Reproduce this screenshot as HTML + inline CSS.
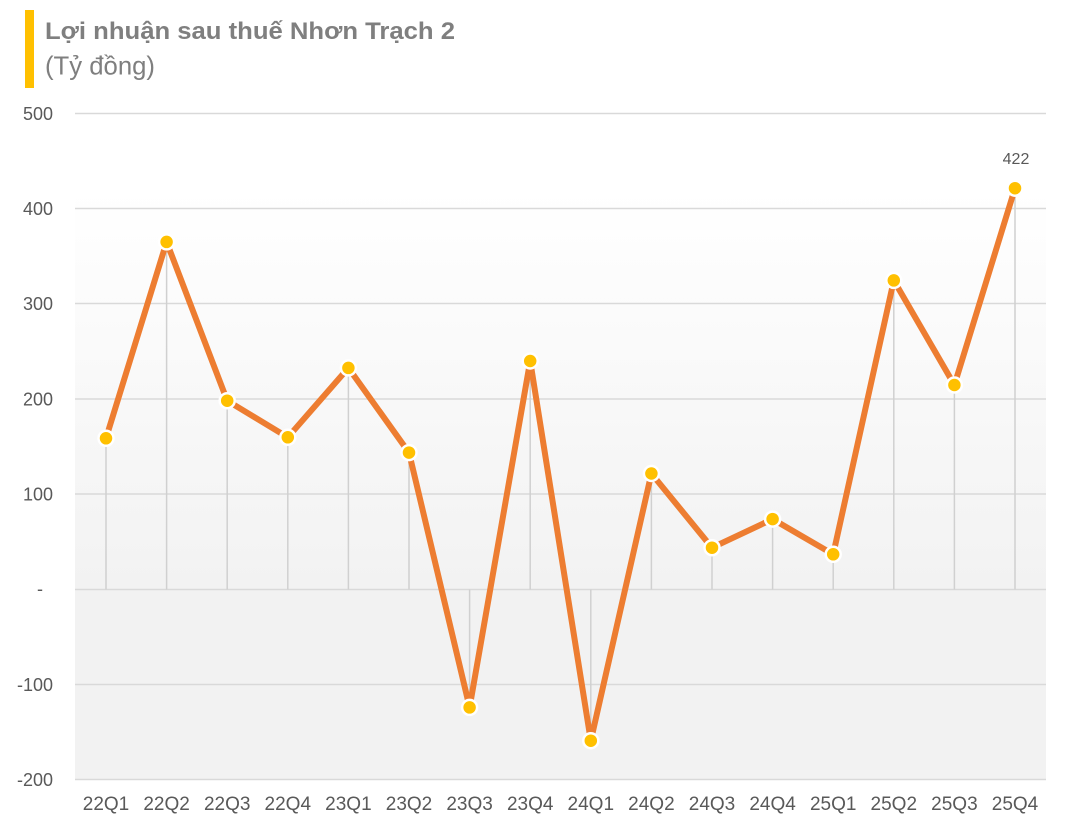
<!DOCTYPE html>
<html>
<head>
<meta charset="utf-8">
<style>
  html, body { margin:0; padding:0; background:#ffffff; }
  body { width:1068px; height:827px; overflow:hidden; }
  svg { display:block; }
  text { font-family: "Liberation Sans", "DejaVu Sans", sans-serif; }
</style>
</head>
<body>
<svg width="1068" height="827" viewBox="0 0 1068 827" xmlns="http://www.w3.org/2000/svg">
  <defs>
    <linearGradient id="bg" x1="0" y1="0" x2="0" y2="1">
      <stop offset="0" stop-color="#ffffff"/>
      <stop offset="1" stop-color="#f2f2f2"/>
    </linearGradient>
  </defs>

  <!-- title -->
  <rect x="25" y="10" width="9" height="78" fill="#FFC000"/>
  <text x="45" y="39" font-size="24.5" font-weight="bold" fill="#7f7f7f" textLength="410" lengthAdjust="spacingAndGlyphs">Lợi nhuận sau thuế Nhơn Trạch 2</text>
  <text x="45" y="74.5" font-size="26" fill="#7f7f7f" textLength="110" lengthAdjust="spacingAndGlyphs">(Tỷ đồng)</text>

  <!-- plot background -->
  <rect x="75" y="190" width="971" height="400" fill="url(#bg)"/>
  <rect x="75" y="589.5" width="971" height="190.5" fill="#f2f2f2"/>

  <!-- gridlines -->
  <g stroke="#d9d9d9" stroke-width="1.5">
    <line x1="75" y1="113.5" x2="1046" y2="113.5"/>
    <line x1="75" y1="208.5" x2="1046" y2="208.5"/>
    <line x1="75" y1="303.5" x2="1046" y2="303.5"/>
    <line x1="75" y1="399" x2="1046" y2="399"/>
    <line x1="75" y1="494" x2="1046" y2="494"/>
    <line x1="75" y1="589.5" x2="1046" y2="589.5"/>
    <line x1="75" y1="684.5" x2="1046" y2="684.5"/>
    <line x1="75" y1="779.5" x2="1046" y2="779.5"/>
  </g>

  <!-- drop lines -->
  <g stroke="#d0d0d0" stroke-width="1.5">
    <line x1="106" y1="438.3" x2="106" y2="589.5"/>
    <line x1="166.6" y1="241.9" x2="166.6" y2="589.5"/>
    <line x1="227.2" y1="400.7" x2="227.2" y2="589.5"/>
    <line x1="287.8" y1="437.3" x2="287.8" y2="589.5"/>
    <line x1="348.4" y1="367.9" x2="348.4" y2="589.5"/>
    <line x1="409" y1="452.6" x2="409" y2="589.5"/>
    <line x1="469.6" y1="707.4" x2="469.6" y2="589.5"/>
    <line x1="530.2" y1="361" x2="530.2" y2="589.5"/>
    <line x1="590.8" y1="740.7" x2="590.8" y2="589.5"/>
    <line x1="651.4" y1="473.5" x2="651.4" y2="589.5"/>
    <line x1="712" y1="547.7" x2="712" y2="589.5"/>
    <line x1="772.6" y1="519.1" x2="772.6" y2="589.5"/>
    <line x1="833.2" y1="554.3" x2="833.2" y2="589.5"/>
    <line x1="893.8" y1="280.4" x2="893.8" y2="589.5"/>
    <line x1="954.4" y1="385" x2="954.4" y2="589.5"/>
    <line x1="1015" y1="188.2" x2="1015" y2="589.5"/>
  </g>

  <!-- series line -->
  <polyline fill="none" stroke="#ED7D31" stroke-width="6" stroke-linejoin="round"
    points="106,438.3 166.6,241.9 227.2,400.7 287.8,437.3 348.4,367.9 409,452.6 469.6,707.4 530.2,361 590.8,740.7 651.4,473.5 712,547.7 772.6,519.1 833.2,554.3 893.8,280.4 954.4,385 1015,188.2"/>

  <!-- markers -->
  <g fill="#FFC000" stroke="#ffffff" stroke-width="2.5">
    <circle cx="106" cy="438.3" r="7.5"/>
    <circle cx="166.6" cy="241.9" r="7.5"/>
    <circle cx="227.2" cy="400.7" r="7.5"/>
    <circle cx="287.8" cy="437.3" r="7.5"/>
    <circle cx="348.4" cy="367.9" r="7.5"/>
    <circle cx="409" cy="452.6" r="7.5"/>
    <circle cx="469.6" cy="707.4" r="7.5"/>
    <circle cx="530.2" cy="361" r="7.5"/>
    <circle cx="590.8" cy="740.7" r="7.5"/>
    <circle cx="651.4" cy="473.5" r="7.5"/>
    <circle cx="712" cy="547.7" r="7.5"/>
    <circle cx="772.6" cy="519.1" r="7.5"/>
    <circle cx="833.2" cy="554.3" r="7.5"/>
    <circle cx="893.8" cy="280.4" r="7.5"/>
    <circle cx="954.4" cy="385" r="7.5"/>
    <circle cx="1015" cy="188.2" r="7.5"/>
  </g>

  <!-- data label -->
  <text x="1016" y="164" font-size="16" fill="#595959" text-anchor="middle">422</text>

  <!-- y-axis labels -->
  <g font-size="18" fill="#595959" text-anchor="end">
    <text x="53" y="120">500</text>
    <text x="53" y="215">400</text>
    <text x="53" y="310">300</text>
    <text x="53" y="405.5">200</text>
    <text x="53" y="500.5">100</text>
    <text x="43" y="595">-</text>
    <text x="53" y="691">-100</text>
    <text x="53" y="786">-200</text>
  </g>

  <!-- x-axis labels -->
  <g font-size="19" fill="#595959" text-anchor="middle">
    <text x="106" y="810">22Q1</text>
    <text x="166.6" y="810">22Q2</text>
    <text x="227.2" y="810">22Q3</text>
    <text x="287.8" y="810">22Q4</text>
    <text x="348.4" y="810">23Q1</text>
    <text x="409" y="810">23Q2</text>
    <text x="469.6" y="810">23Q3</text>
    <text x="530.2" y="810">23Q4</text>
    <text x="590.8" y="810">24Q1</text>
    <text x="651.4" y="810">24Q2</text>
    <text x="712" y="810">24Q3</text>
    <text x="772.6" y="810">24Q4</text>
    <text x="833.2" y="810">25Q1</text>
    <text x="893.8" y="810">25Q2</text>
    <text x="954.4" y="810">25Q3</text>
    <text x="1015" y="810">25Q4</text>
  </g>
</svg>
</body>
</html>
